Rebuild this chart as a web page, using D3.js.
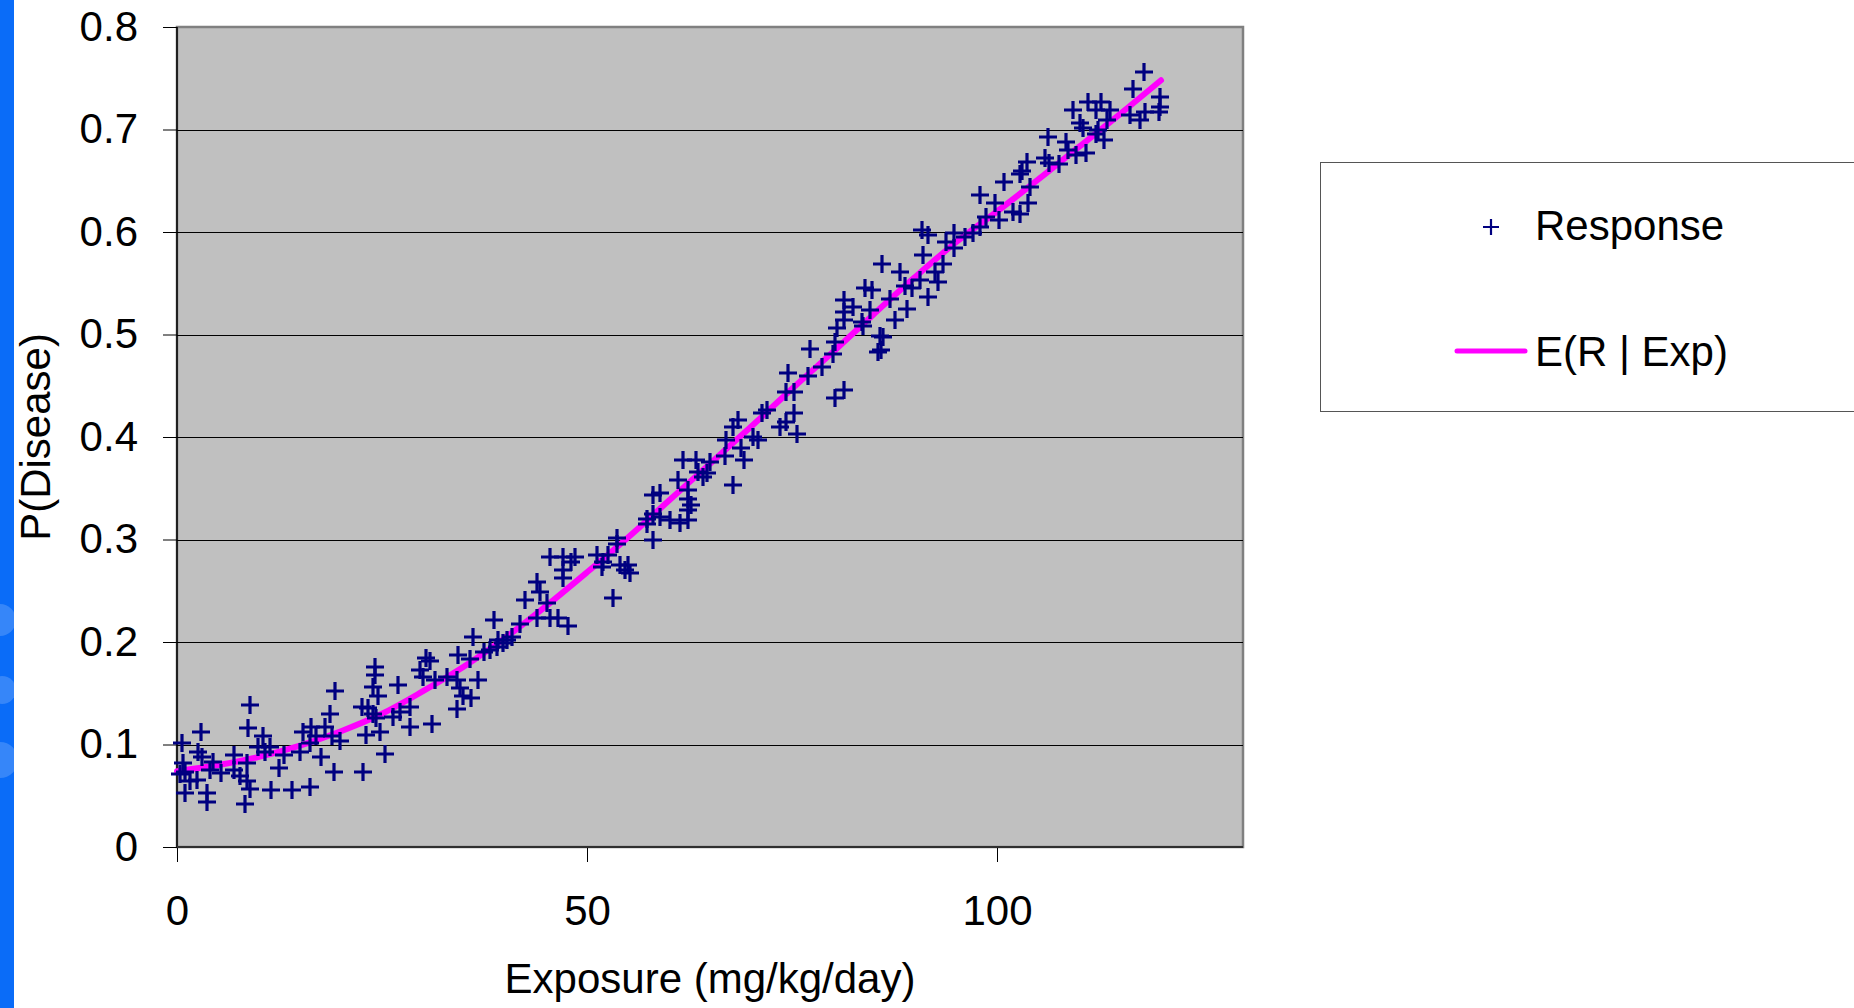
<!DOCTYPE html>
<html><head><meta charset="utf-8">
<script src="https://cdn.jsdelivr.net/npm/d3@7/dist/d3.min.js"></script>
<style>
body{margin:0;background:#fff;overflow:hidden}
text{font-family:"Liberation Sans",Arial,sans-serif}
</style>
</head><body>
<svg id="c" width="1854" height="1008"></svg>
<script>
// ---- data ----
const exposure = [
0.57,2.9,0.77,0.98,0.37,1.6,0.98,2.6,3.0,3.6,3.6,2.4,4.0,4.4,5.4,6.9,6.9,7.7,8.5,8.9,8.3,8.9,8.7,8.5,9.9,10.5,10.7,11.3,11.5,12.4,13.0,14.0,16.2,15.4,16.4,16.2,15.0,17.0,17.6,18.0,18.7,19.3,18.9,19.9,19.1,22.7,22.5,23.3,24.1,24.1,23.9,24.5,23.9,24.3,24.7,23.1,25.4,27.0,26.4,27.2,28.4,28.4,31.1,30.4,30.9,29.6,30.0,31.5,32.9,34.1,34.5,34.9,34.1,35.9,36.7,35.7,
34.3,36.1,38.6,39.2,39.8,40.2,38.2,41.8,42.4,43.9,44.3,43.9,45.1,45.5,46.5,47.7,45.5,47.1,47.1,48.1,48.5,47.1,51.2,52.0,52.6,53.6,53.6,54.0,55.0,55.2,54.6,51.8,53.2,58.1,58.9,57.3,58.1,57.3,58.9,58.1,60.1,61.3,62.3,62.3,62.7,62.3,62.3,61.1,61.7,63.3,63.5,64.1,64.6,65.0,66.8,67.8,67.0,67.8,68.4,68.8,69.2,39.0,40.8,37.5,
70.3,70.9,71.3,71.9,73.5,74.3,75.6,75.2,74.3,74.5,75.2,77.0,77.2,78.6,80.0,80.3,80.3,81.3,80.5,81.3,81.3,81.3,82.5,83.5,83.7,83.9,84.7,84.5,85.7,86.1,85.5,85.9,86.0,87.0,87.6,88.2,88.8,89.0,89.6,90.6,91.6,92.4,92.8,91.0,90.8,91.6,93.4,93.8,
94.7,94.7,96.1,97.1,97.9,98.7,100.2,99.8,97.9,100.9,101.9,102.8,103.8,104.0,102.8,103.0,103.6,106.2,105.8,106.4,107.6,108.4,108.6,109.6,110.9,109.3,110.1,110.5,111.1,112.1,112.7,112.1,113.0,112.3,113.8,113.4,116.6,117.9,116.2,117.4,118.0,119.9,119.9,119.7
];
const response = [
0.101,0.112,0.082,0.073,0.071,0.064,0.053,0.093,0.088,0.053,0.044,0.065,0.075,0.083,0.072,0.090,0.075,0.069,0.064,0.057,0.042,0.139,0.116,0.082,0.098,0.108,0.093,0.098,0.056,0.077,0.090,0.056,0.059,0.112,0.117,0.101,0.093,0.108,0.088,0.117,0.130,0.152,0.108,0.103,0.073,0.073,0.137,0.136,0.176,0.168,0.156,0.147,0.130,0.126,0.112,0.109,0.091,0.158,0.127,0.132,0.137,0.117,0.120,0.184,0.181,0.173,0.166,0.163,0.166,0.163,0.155,0.147,0.135,0.145,0.163,0.183,
0.187,0.205,0.221,0.202,0.199,0.202,0.192,0.218,0.241,0.259,0.249,0.223,0.238,0.223,0.223,0.216,0.283,0.283,0.270,0.278,0.283,0.262,0.285,0.278,0.285,0.301,0.296,0.275,0.275,0.267,0.270,0.273,0.243,0.343,0.345,0.320,0.325,0.315,0.322,0.300,0.319,0.316,0.319,0.329,0.334,0.340,0.348,0.358,0.378,0.378,0.366,0.361,0.365,0.376,0.381,0.353,0.397,0.410,0.417,0.389,0.378,0.195,0.205,0.190,
0.400,0.397,0.423,0.426,0.410,0.415,0.403,0.423,0.444,0.462,0.444,0.460,0.486,0.468,0.481,0.493,0.438,0.446,0.506,0.534,0.522,0.514,0.527,0.512,0.508,0.545,0.543,0.524,0.499,0.498,0.483,0.485,0.569,0.535,0.514,0.561,0.547,0.525,0.545,0.553,0.537,0.561,0.551,0.578,0.602,0.597,0.569,0.590,
0.599,0.584,0.595,0.599,0.605,0.615,0.612,0.628,0.636,0.649,0.620,0.618,0.628,0.644,0.657,0.660,0.668,0.693,0.672,0.667,0.666,0.688,0.680,0.675,0.677,0.719,0.706,0.701,0.727,0.719,0.727,0.696,0.690,0.700,0.719,0.709,0.740,0.756,0.714,0.709,0.717,0.732,0.722,0.717
];
const curveExposure = [0,5,10,15,20,25,30,35,40,45,50,55,60,65,70,75,80,85,90,95,100,105,110,115,120];
const curveP = [0.074,0.080,0.088,0.099,0.113,0.130,0.152,0.176,0.204,0.235,0.268,0.302,0.338,0.374,0.410,0.447,0.483,0.520,0.556,0.590,0.620,0.651,0.683,0.715,0.748];
const xTicks = [0,50,100];
const yTicks = [0,0.1,0.2,0.3,0.4,0.5,0.6,0.7,0.8];
const seriesNames = ["Response","E(R | Exp)"];
const xTitle = "Exposure (mg/kg/day)";
const yTitle = "P(Disease)";

// ---- layout ----
const L = 177, R = 1243, T = 27, B = 847;
const svg = d3.select("#c");
const x = d3.scaleLinear().domain([0,130]).range([L,R]);
const y = d3.scaleLinear().domain([0,0.8]).range([B,T]);

// blue strip at left edge
const strip = svg.append("g");
strip.append("rect").attr("x",0).attr("y",0).attr("width",14).attr("height",1008).attr("fill","#0a6cf8");
strip.append("clipPath").attr("id","sc").append("rect").attr("width",14).attr("height",1008);
[[0,620,16],[2,690,14],[0,760,18]].forEach(c=>{
  strip.append("circle").attr("cx",c[0]).attr("cy",c[1]).attr("r",c[2]).attr("fill","rgba(255,255,255,0.18)").attr("clip-path","url(#sc)");
});

// plot area
svg.append("rect").attr("x",L).attr("y",T).attr("width",R-L).attr("height",B-T)
  .attr("fill","#c0c0c0").attr("stroke","#808080").attr("stroke-width",2.5);

// gridlines
svg.append("g").selectAll("line").data(yTicks.filter(v=>v>0&&v<0.8)).join("line")
  .attr("x1",L).attr("x2",R).attr("y1",d=>Math.round(y(d))+0.5).attr("y2",d=>Math.round(y(d))+0.5)
  .attr("stroke","#000").attr("stroke-width",1);

// axes
const fmtY = d => d===0 ? "0" : d3.format(".1f")(d);
const yAxis = svg.append("g").attr("transform",`translate(${L},0)`)
  .call(d3.axisLeft(y).tickValues(yTicks).tickFormat(fmtY).tickSize(14).tickSizeOuter(0).tickPadding(25));
const xAxis = svg.append("g").attr("transform",`translate(0,${B})`)
  .call(d3.axisBottom(x).tickValues(xTicks).tickFormat(d3.format("d")).tickSize(15).tickSizeOuter(0).tickPadding(33));
[yAxis,xAxis].forEach(g=>{
  g.select(".domain").remove();
  g.selectAll("line").attr("stroke","#000").attr("stroke-width",1);
  g.selectAll("text").attr("font-size",42).attr("fill","#000").style("font-family","'Liberation Sans',Arial,sans-serif");
});
svg.append("line").attr("x1",L).attr("x2",L).attr("y1",T).attr("y2",B).attr("stroke","#000").attr("stroke-width",1.5);
svg.append("line").attr("x1",L).attr("x2",R).attr("y1",B).attr("y2",B).attr("stroke","#303030").attr("stroke-width",2);

// expected response line
const line = d3.line().x((d,i)=>x(curveExposure[i])).y(d=>y(d)).curve(d3.curveCatmullRom);
svg.append("path").datum(curveP).attr("d",line).attr("fill","none")
  .attr("stroke","#ff00ff").attr("stroke-width",6).attr("stroke-linecap","round");

// response points
const s = 9;
svg.append("g").selectAll("path").data(exposure).join("path")
  .attr("transform",(d,i)=>`translate(${Math.round(x(d))},${Math.round(y(response[i]))})`)
  .attr("d",`M${-s},0H${s}M0,${-s}V${s}`)
  .attr("stroke","#000080").attr("stroke-width",3.2).attr("fill","none");

// axis titles
svg.append("text").attr("x",(L+R)/2).attr("y",993).attr("text-anchor","middle")
  .attr("font-size",42).attr("fill","#000").text(xTitle);
svg.append("text").attr("transform",`translate(50,${(T+B)/2}) rotate(-90)`).attr("text-anchor","middle")
  .attr("font-size",42).attr("fill","#000").text(yTitle);

// legend
const lg = svg.append("g");
lg.append("rect").attr("x",1320.5).attr("y",162.5).attr("width",600).attr("height",249)
  .attr("fill","#fff").attr("stroke","#555").attr("stroke-width",1);
lg.append("path").attr("transform","translate(1491,227)").attr("d","M-8,0H8M0,-8V8")
  .attr("stroke","#000080").attr("stroke-width",2.2).attr("fill","none");
lg.append("text").attr("x",1535).attr("y",225).attr("dy","0.35em").attr("font-size",42).attr("fill","#000").text(seriesNames[0]);
lg.append("line").attr("x1",1457).attr("x2",1525).attr("y1",351).attr("y2",351)
  .attr("stroke","#ff00ff").attr("stroke-width",5).attr("stroke-linecap","round");
lg.append("text").attr("x",1535).attr("y",351).attr("dy","0.35em").attr("font-size",42).attr("fill","#000").text(seriesNames[1]);
</script>
</body></html>
